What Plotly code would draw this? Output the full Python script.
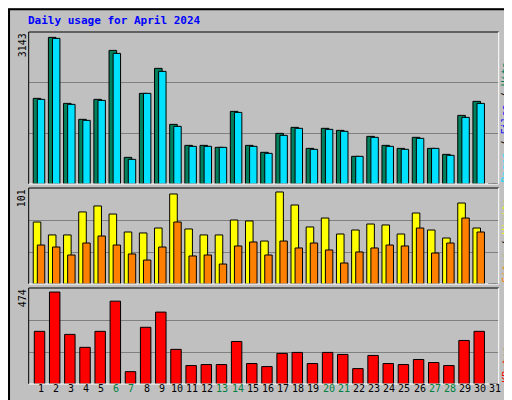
import plotly.graph_objects as go

days = list(range(1, 32))
hits = [1771, 3032, 1667, 1337, 1750, 2763, 551, 1874, 2391, 1233, 799, 799, 758, 1502, 799,
        655, 1047, 1171, 737, 1151, 1109, 572, 985, 799, 737, 965, 737, 613, 1419, 1709, 0]
files = [1750, 3011, 1647, 1316, 1729, 2701, 510, 1874, 2329, 1192, 779, 779, 758, 1481, 779,
         634, 1006, 1151, 717, 1130, 1089, 572, 965, 779, 717, 944, 737, 593, 1378, 1667, 0]
visits = [65.2, 51.6, 51.6, 75.8, 82.1, 73.6, 54.7, 53.7, 58.9, 94.7, 57.9, 51.6, 51.6, 67.3, 66.3,
          45.2, 96.8, 83.1, 60, 69.4, 52.6, 56.8, 63.1, 62.1, 52.6, 74.7, 56.8, 48.4, 85.2, 58.9, 0]
sites = [41, 38.9, 30.5, 43.1, 50.5, 41, 31.6, 25.2, 38.9, 65.2, 29.5, 30.5, 21, 40, 44.2,
         30.5, 45.2, 37.9, 43.1, 35.8, 22.1, 33.7, 37.9, 41, 40, 58.9, 32.6, 43.1, 69.4, 54.7, 0]
kbytes = [260, 454, 245, 181, 260, 409, 61, 280, 355, 171, 91, 96, 96, 210, 101,
          86, 151, 156, 101, 156, 146, 76, 141, 101, 96, 121, 106, 91, 215, 260, 0]
weekends = [6, 7, 13, 14, 20, 21, 27, 28]
max_hits, max_visits, max_kb = 3143, 101, 474

mono = "DejaVu Sans Mono"
fig = go.Figure()

def bars(y, color, offset, width, axis):
    fig.add_trace(go.Bar(x=days, y=y, marker=dict(color=color, line=dict(color="black", width=1)),
                         offset=offset, width=width, xaxis="x" + axis, yaxis="y" + axis,
                         hoverinfo="y"))

bars(hits, "#00805c", -0.2, 0.5, "")
bars(files, "#00e0ff", 0.07, 0.49, "")
bars(visits, "#ffff00", -0.2, 0.5, "2")
bars(sites, "#ff8000", 0.07, 0.49, "2")
bars(kbytes, "#ff0000", -0.13, 0.69, "3")

xdom = [0.0404, 0.9584]
ax = dict(range=[0.5, 31.5], domain=xdom, showticklabels=False, showgrid=False, zeroline=False, fixedrange=True)
def yax(mx, dom):
    return dict(range=[0, mx], domain=dom, showticklabels=False, zeroline=False,
                tickvals=[mx / 3, 2 * mx / 3], gridcolor="#808080", gridwidth=1, fixedrange=True)

fig.update_layout(
    width=512, height=400, margin=dict(l=0, r=0, t=0, b=0),
    paper_bgcolor="#c0c0c0", plot_bgcolor="#c0c0c0", showlegend=False, barmode="overlay",
    xaxis=ax, xaxis2=dict(ax, anchor="y2"), xaxis3=dict(ax, anchor="y3"),
    yaxis=yax(max_hits, [0.56, 0.94]),
    yaxis2=dict(yax(max_visits, [0.31, 0.55]), anchor="x2"),
    yaxis3=dict(yax(max_kb, [0.06, 0.30]), anchor="x3"),
    font=dict(family=mono, size=10, color="black"),
)

# panel borders
for dom in ([0.56, 0.94], [0.31, 0.55], [0.06, 0.30]):
    x0, x1 = xdom
    y0, y1 = dom
    fig.add_shape(type="line", xref="paper", yref="paper", x0=x0, x1=x1, y0=y1, y1=y1, line=dict(color="black", width=1))
    fig.add_shape(type="line", xref="paper", yref="paper", x0=x0, x1=x0, y0=y0, y1=y1, line=dict(color="black", width=1))
    fig.add_shape(type="line", xref="paper", yref="paper", x0=x0, x1=x1, y0=y0, y1=y0, line=dict(color="white", width=1))
    fig.add_shape(type="line", xref="paper", yref="paper", x0=x1, x1=x1, y0=y0, y1=y1, line=dict(color="white", width=1))

# outer frame
fig.add_shape(type="rect", xref="paper", yref="paper", x0=0.002, x1=0.998, y0=0.003, y1=0.997,
              line=dict(color="black", width=2))
fig.add_shape(type="line", xref="paper", yref="paper", x0=0.006, x1=0.992, y0=0.008, y1=0.008, line=dict(color="#808080", width=3))
fig.add_shape(type="line", xref="paper", yref="paper", x0=0.992, x1=0.992, y0=0.008, y1=0.992, line=dict(color="#808080", width=3))

fig.add_annotation(text="<b>Daily usage for April 2024</b>", xref="paper", yref="paper", x=0.035, y=0.99,
                   xanchor="left", yanchor="top", showarrow=False, font=dict(color="#0000ff", size=11, family=mono))

for label, top in ((f"{max_hits}", 0.94), (f"{max_visits}", 0.55), (f"{max_kb}", 0.30)):
    fig.add_annotation(text=label, xref="paper", yref="paper", x=0.028, y=top, textangle=-90,
                       xanchor="center", yanchor="top", showarrow=False, borderpad=0)

right = [
    ('<span style="color:#00e0ff">Pages</span> / <span style="color:#0000ff">Files</span> / <span style="color:#00805c">Hits</span>', 0.56),
    ('<span style="color:#ff8000">Sites</span> / <span style="color:#ffff00">Visits</span>', 0.31),
    ('<span style="color:#ff0000">KBytes</span>', 0.06),
]
for txt, bot in right:
    fig.add_annotation(text=txt, xref="paper", yref="paper", x=0.972, y=bot, textangle=-90,
                       xanchor="center", yanchor="bottom", showarrow=False, borderpad=0)

for d in days:
    fig.add_annotation(text=str(d), xref="x3", yref="paper", x=d + 0.28, y=0.03, showarrow=False,
                       font=dict(color="#008040" if d in weekends else "black"))

fig.write_html("out.html")
